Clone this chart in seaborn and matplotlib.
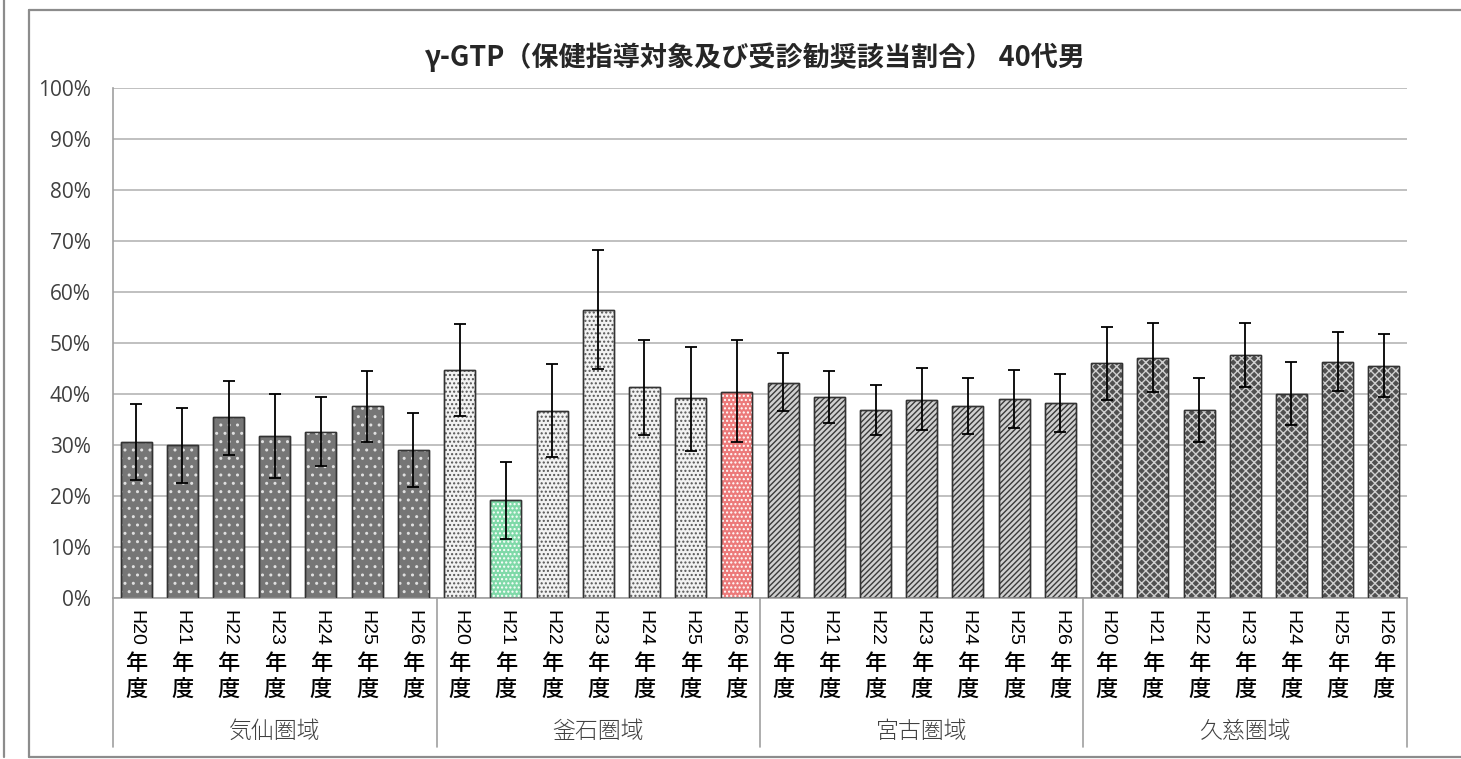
import numpy as np
import pandas as pd
import seaborn as sns
import matplotlib.pyplot as plt
from matplotlib.patches import Rectangle
from matplotlib.lines import Line2D
import matplotlib.transforms as mtransforms

# data (percent)
groups = ['気仙圏域', '釜石圏域', '宮古圏域', '久慈圏域']
years = ['H20', 'H21', 'H22', 'H23', 'H24', 'H25', 'H26']

kesen = [30.5, 30.0, 35.4, 31.8, 32.5, 37.6, 29.0]
kesen_lo = [23.1, 22.6, 28.0, 23.6, 25.8, 30.5, 21.8]
kesen_hi = [38.0, 37.3, 42.6, 40.0, 39.5, 44.6, 36.3]

kamaishi = [44.7, 19.2, 36.7, 56.4, 41.4, 39.2, 40.4]
kamaishi_lo = [35.6, 11.6, 27.6, 44.9, 32.0, 28.9, 30.5]
kamaishi_hi = [53.7, 26.7, 45.9, 68.2, 50.5, 49.3, 50.5]

miyako = [42.2, 39.5, 36.9, 38.9, 37.6, 39.1, 38.2]
miyako_lo = [36.7, 34.4, 32.0, 32.9, 32.2, 33.3, 32.5]
miyako_hi = [48.0, 44.6, 41.8, 45.1, 43.1, 44.8, 44.0]

kuji = [46.0, 47.1, 36.8, 47.6, 40.0, 46.2, 45.5]
kuji_lo = [38.9, 40.3, 30.5, 41.3, 33.9, 40.5, 39.4]
kuji_hi = [53.1, 53.9, 43.1, 53.9, 46.2, 52.2, 51.7]

values = kesen + kamaishi + miyako + kuji
lows = kesen_lo + kamaishi_lo + miyako_lo + kuji_lo
highs = kesen_hi + kamaishi_hi + miyako_hi + kuji_hi

df = pd.DataFrame({
    'group': np.repeat(groups, len(years)),
    'year': years * len(groups),
    'value': values,
    'lo': lows,
    'hi': highs,
})
df['key'] = df['group'] + '_' + df['year']

sns.set_style('white')
plt.rcParams['font.family'] = ['Noto Sans CJK JP', 'DejaVu Sans']

fig = plt.figure(figsize=(14.61, 7.59), dpi=100)
ax = fig.add_axes([113 / 1461, 1 - 598 / 759, (1407 - 113) / 1461, 510 / 759])

sns.barplot(data=df, x='key', y='value', color='#808080', width=0.67,
            errorbar=None, ax=ax, zorder=2)

# fills / hatches per group, special bars highlighted
styles = {
    '気仙圏域': ('#767676', '..', '#e0e0e0'),
    '釜石圏域': ('#f2f2f2', '....', '#555555'),
    '宮古圏域': ('#d0d0d0', '//////', '#3a3a3a'),
    '久慈圏域': ('#505050', 'xxxx', '#d0d0d0'),
}
special = {'釜石圏域_H21': ('#7fd9a8', '....', '#ffffff'),
           '釜石圏域_H26': ('#ec7a7a', '....', '#ffffff')}

for patch, key, grp in zip(ax.patches, df['key'], df['group']):
    fc, hatch, hc = special.get(key, styles[grp])
    patch.set_facecolor(fc)
    patch.set_edgecolor('#333333')
    patch.set_linewidth(1.0)
    x, y = patch.get_xy()
    over = Rectangle((x, y), patch.get_width(), patch.get_height(),
                     facecolor='none', edgecolor=hc, hatch=hatch,
                     linewidth=0, zorder=2.5)
    ax.add_patch(over)
    edge = Rectangle((x, y), patch.get_width(), patch.get_height(),
                     facecolor='none', edgecolor='#333333', linewidth=1.0,
                     zorder=2.6)
    ax.add_patch(edge)

xs = np.arange(len(df))
ax.errorbar(xs, df['value'], yerr=[df['value'] - df['lo'], df['hi'] - df['value']],
            fmt='none', ecolor='black', elinewidth=1.3, capsize=4.5,
            capthick=1.3, zorder=3)

ax.set_ylim(0, 100)
ax.set_xlim(-0.5, len(df) - 0.5)
ax.set_yticks(range(0, 101, 10))
ax.set_yticklabels([f'{v}%' for v in range(0, 101, 10)], fontsize=15,
                   color='#404040', family=['Open Sans', 'DejaVu Sans'])
ax.tick_params(axis='y', length=0, pad=16)
ax.set_xticks(xs)
ax.set_xticklabels([])
ax.tick_params(axis='x', length=0)
ax.set_xlabel('')
ax.set_ylabel('')
ax.grid(axis='y', color='#b5b5b5', linewidth=1.2, zorder=0)
ax.set_axisbelow(True)
for s in ['top', 'right']:
    ax.spines[s].set_visible(False)
ax.spines['left'].set_color('#a0a0a0')
ax.spines['bottom'].set_color('#a0a0a0')
ax.spines['left'].set_linewidth(1.2)
ax.spines['bottom'].set_linewidth(1.2)

# category labels (vertical text)
trans = mtransforms.blended_transform_factory(ax.transData, ax.transAxes)
px = 1 / 510
for i, yr in enumerate(df['year']):
    ax.text(i, -12 * px, yr, rotation=-90, ha='center', va='top', fontsize=14,
            transform=trans, family=['Liberation Sans', 'DejaVu Sans'],
            color='black')
    ax.text(i, -(664 - 598) * px, '年', ha='center', va='center', fontsize=16,
            transform=trans, color='black', fontweight='medium')
    ax.text(i, -(689 - 598) * px, '度', ha='center', va='center', fontsize=16,
            transform=trans, color='black', fontweight='medium')

n = len(years)
for g, name in enumerate(groups):
    ax.text(g * n + (n - 1) / 2, -(731 - 598) * px, name, ha='center',
            va='center', fontsize=16.5, color='#404040', transform=trans,
            fontweight='light')
for b in range(len(groups) + 1):
    ax.add_line(Line2D([b * n - 0.5] * 2, [0, -(747 - 598) * px],
                       transform=trans, color='#a0a0a0', linewidth=1.2,
                       clip_on=False))

fig.text(755 / 1461, 1 - 57 / 759, 'γ-GTP（保健指導対象及び受診勧奨該当割合） 40代男',
         ha='center', va='center', fontsize=19.5, fontweight='bold')

# chart frame
fig.add_artist(Line2D([29 / 1461, 29 / 1461], [1 - 757 / 759, 1 - 10 / 759],
                      transform=fig.transFigure, color='#8c8c8c', linewidth=1.6))
fig.add_artist(Line2D([29 / 1461, 1], [1 - 10 / 759, 1 - 10 / 759],
                      transform=fig.transFigure, color='#8c8c8c', linewidth=1.6))
fig.add_artist(Line2D([29 / 1461, 1], [1 - 757 / 759, 1 - 757 / 759],
                      transform=fig.transFigure, color='#8c8c8c', linewidth=1.6))
fig.add_artist(Line2D([4 / 1461, 4 / 1461], [1 - 757 / 759, 1],
                      transform=fig.transFigure, color='#8c8c8c', linewidth=1.6))

fig.savefig('out.png', dpi=100)
